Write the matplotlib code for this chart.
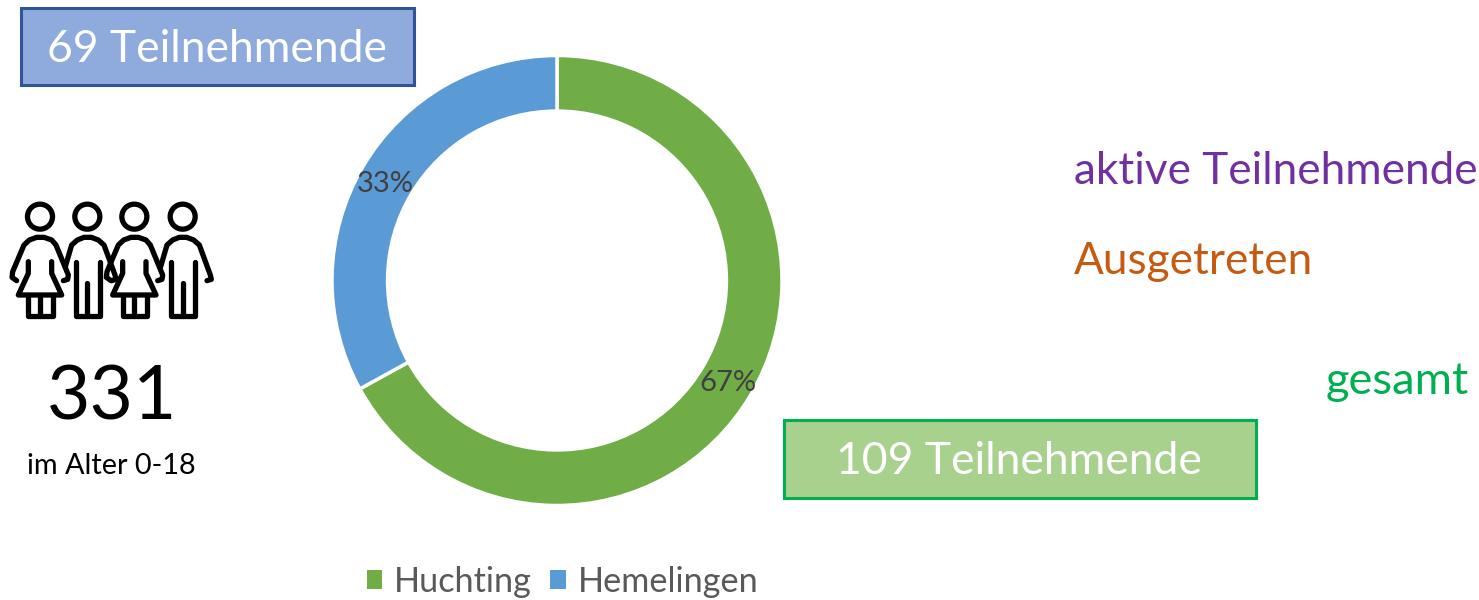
import numpy as np
import matplotlib
matplotlib.use("Agg")
import matplotlib.pyplot as plt
from matplotlib.patches import Rectangle, Circle

plt.rcParams['font.family'] = ['Lato', 'DejaVu Sans']

locations = ["Huchting", "Hemelingen"]
shares = [67, 33]
colors = ["#70AD47", "#5B9BD5"]
W, H = 1479, 600

fig = plt.figure(figsize=(W/100, H/100), dpi=100, facecolor="white")

# full-figure overlay in pixel coordinates
bg = fig.add_axes([0, 0, 1, 1], zorder=0)
bg.set_xlim(0, W); bg.set_ylim(H, 0); bg.axis("off")

# donut
cx, cy, R = 557, 280.5, 225
ax = fig.add_axes([(cx-R)/W, 1-(cy+R)/H, 2*R/W, 2*R/H], zorder=1)
wedges, _ = ax.pie(shares, colors=colors, startangle=90, counterclock=False, radius=1,
                   wedgeprops=dict(width=0.247, edgecolor="white", linewidth=2.5))
ax.set_xlim(-1, 1); ax.set_ylim(-1, 1); ax.set_aspect("equal")

top = fig.add_axes([0, 0, 1, 1], zorder=2)
top.set_xlim(0, W); top.set_ylim(H, 0); top.axis("off"); top.patch.set_alpha(0)

lab = dict(color="#404040", fontsize=21, ha="center", va="center")
top.text(385.5, 184, f"{shares[1]}%", **lab)
top.text(727.5, 383, f"{shares[0]}%", **lab)

# boxes
top.add_patch(Rectangle((21, 7.5), 393, 77, fc="#8FAADC", ec="#2F5597", lw=2.2))
top.text(217, 49, "69 Teilnehmende", color="white", fontsize=32, ha="center", va="center")
top.add_patch(Rectangle((784, 420), 472, 78, fc="#A9D18E", ec="#00B050", lw=2.2))
top.text(1019, 462, "109 Teilnehmende", color="white", fontsize=32, ha="center", va="center")

# side texts
top.text(1074, 172, "aktive Teilnehmende", color="#7030A0", fontsize=31.8, ha="left", va="center")
top.text(1074, 262, "Ausgetreten", color="#C55A11", fontsize=31.8, ha="left", va="center")
top.text(1326, 382, "gesamt", color="#00B050", fontsize=32.6, ha="left", va="center")
top.text(112, 398, "331", color="black", fontsize=54, ha="center", va="center")
top.text(111, 466, "im Alter 0-18", color="black", fontsize=20.8, ha="center", va="center")

# icon, drawn in zoomed-crop units
ic = dict(color="black", lw=3.8, solid_capstyle="round", solid_joinstyle="round")
def line(xs, ys, dx):
    top.plot([(x+dx)/3 for x in xs], [190+y/3 for y in ys], **ic)

def woman(dx):
    top.add_patch(Circle(((120+dx)/3, 190+80/3), 12.5, fc="none", ec="black", lw=3.8))
    line([50, 36, 38, 72, 88, 110, 132, 155, 168, 205, 203, 190],
         [272, 262, 245, 165, 150, 142, 142, 150, 165, 255, 268, 272], dx)
    line([85, 85, 55, 185, 155, 155], [215, 250, 315, 315, 250, 215], dx)
    line([85, 85, 158, 158], [315, 378, 378, 315], dx)
    line([120, 120], [315, 378], dx)

def man(dx):
    top.add_patch(Circle(((262+dx)/3, 190+80/3), 12.5, fc="none", ec="black", lw=3.8))
    line([196, 215, 232, 252, 274, 295, 312, 345, 348, 335],
         [230, 165, 150, 142, 142, 150, 165, 255, 268, 272], dx)
    line([228, 228, 262, 262], [215, 378, 378, 280], dx)
    line([262, 300, 300], [378, 378, 215], dx)

woman(0); man(0); woman(283); man(286)

# legend
leg = top.legend(wedges, locations, loc="center", bbox_to_anchor=(562.5, 582),
                 bbox_transform=top.transData, ncol=2, frameon=False, fontsize=24.7,
                 labelcolor="#595959", handlelength=0.46, handleheight=0.46,
                 handletextpad=0.33, columnspacing=0.55, borderpad=0, borderaxespad=0)
for h in leg.get_patches():
    h.set_edgecolor("none"); h.set_linewidth(0)

fig.savefig("out.png", dpi=100, facecolor="white")
